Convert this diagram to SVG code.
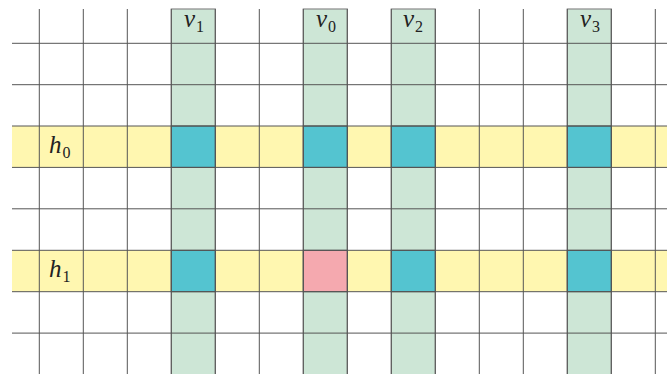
<svg xmlns="http://www.w3.org/2000/svg" width="667" height="374" viewBox="0 0 667 374">
<style>
.hband{fill:#FFF7B0}
.vband{fill:#CDE6D6;stroke:#8a8a8a;stroke-width:1.2}
.cell{fill:#54C4D0;stroke:#444;stroke-width:1}
.pink{fill:#F5A9AF;stroke:#444;stroke-width:1}
.grid line{stroke:#555;stroke-width:1}
.lab{font-family:"Liberation Serif","DejaVu Serif",serif;font-style:italic;font-size:25px;fill:#222}
.sub{font-family:"Liberation Serif","DejaVu Serif",serif;font-style:normal;font-size:16px;fill:#222}
</style>
<rect width="667" height="374" fill="#fff"/>
<g id="row-h0"><rect class="hband" x="12" y="126" width="655" height="41.4"/></g>
<g id="row-h1"><rect class="hband" x="12" y="250.3" width="655" height="41.4"/></g>
<g id="col-v1"><rect class="vband" x="171.3" y="9" width="44" height="366"/></g>
<g id="col-v0"><rect class="vband" x="303.3" y="9" width="44" height="366"/></g>
<g id="col-v2"><rect class="vband" x="391.3" y="9" width="44" height="366"/></g>
<g id="col-v3"><rect class="vband" x="567.3" y="9" width="44" height="366"/></g>
<g id="cells">
<rect class="cell" x="171.3" y="126" width="44" height="41.4"/>
<rect class="cell" x="303.3" y="126" width="44" height="41.4"/>
<rect class="cell" x="391.3" y="126" width="44" height="41.4"/>
<rect class="cell" x="567.3" y="126" width="44" height="41.4"/>
<rect class="cell" x="171.3" y="250.3" width="44" height="41.4"/>
<rect class="pink" x="303.3" y="250.3" width="44" height="41.4"/>
<rect class="cell" x="391.3" y="250.3" width="44" height="41.4"/>
<rect class="cell" x="567.3" y="250.3" width="44" height="41.4"/>
</g>
<g class="grid" id="grid">
<line x1="39.3" y1="9" x2="39.3" y2="374"/>
<line x1="83.3" y1="9" x2="83.3" y2="374"/>
<line x1="127.3" y1="9" x2="127.3" y2="374"/>
<line x1="171.3" y1="9" x2="171.3" y2="374"/>
<line x1="215.3" y1="9" x2="215.3" y2="374"/>
<line x1="259.3" y1="9" x2="259.3" y2="374"/>
<line x1="303.3" y1="9" x2="303.3" y2="374"/>
<line x1="347.3" y1="9" x2="347.3" y2="374"/>
<line x1="391.3" y1="9" x2="391.3" y2="374"/>
<line x1="435.3" y1="9" x2="435.3" y2="374"/>
<line x1="479.3" y1="9" x2="479.3" y2="374"/>
<line x1="523.3" y1="9" x2="523.3" y2="374"/>
<line x1="567.3" y1="9" x2="567.3" y2="374"/>
<line x1="611.3" y1="9" x2="611.3" y2="374"/>
<line x1="655.3" y1="9" x2="655.3" y2="374"/>
<line x1="12" y1="43.3" x2="667" y2="43.3"/>
<line x1="12" y1="84.7" x2="667" y2="84.7"/>
<line x1="12" y1="126" x2="667" y2="126"/>
<line x1="12" y1="167.4" x2="667" y2="167.4"/>
<line x1="12" y1="208.8" x2="667" y2="208.8"/>
<line x1="12" y1="250.3" x2="667" y2="250.3"/>
<line x1="12" y1="291.7" x2="667" y2="291.7"/>
<line x1="12" y1="333.1" x2="667" y2="333.1"/>
</g>
<g id="labels">
<text class="lab" x="184" y="27">v<tspan class="sub" dx="1" dy="5">1</tspan></text>
<text class="lab" x="316" y="27">v<tspan class="sub" dx="1" dy="5">0</tspan></text>
<text class="lab" x="403" y="27">v<tspan class="sub" dx="1" dy="5">2</tspan></text>
<text class="lab" x="580" y="27">v<tspan class="sub" dx="1" dy="5">3</tspan></text>
<text class="lab" x="49" y="153">h<tspan class="sub" dx="1" dy="5">0</tspan></text>
<text class="lab" x="49" y="277">h<tspan class="sub" dx="1" dy="5">1</tspan></text>
</g>
</svg>
